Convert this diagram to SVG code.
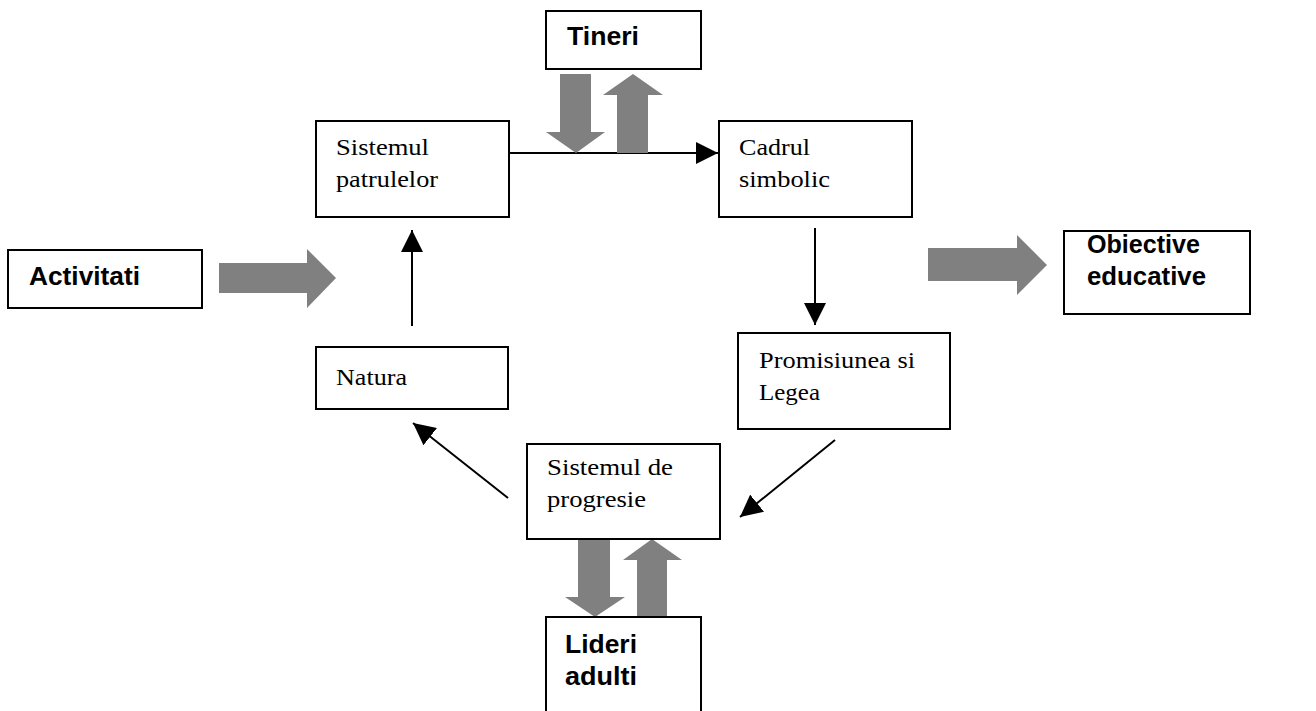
<svg xmlns="http://www.w3.org/2000/svg" width="1316" height="711" viewBox="0 0 1316 711">
<style>
.box{fill:#fff;stroke:#000;stroke-width:2}
.s{font-family:"Liberation Serif","Times New Roman",serif;font-size:24px;fill:#000}
.b{font-family:"Liberation Sans",Arial,sans-serif;font-size:25px;font-weight:bold;fill:#000}
.fat{fill:#808080;stroke:none}
.ln{stroke:#000;stroke-width:2;fill:none;marker-end:url(#ah)}
</style>
<defs>
<marker id="ah" markerUnits="userSpaceOnUse" markerWidth="22" markerHeight="22" viewBox="0 0 20 20" refX="20" refY="10" orient="auto">
<path d="M0,0 L20,10 L0,20 Z" fill="#000"/>
</marker>
</defs>
<rect width="1316" height="711" fill="#fff"/>
<g id="connectors">
<line class="ln" x1="509" y1="153" x2="718" y2="153"/>
<line class="ln" x1="412" y1="326" x2="412" y2="230"/>
<line class="ln" x1="815" y1="228" x2="815" y2="325"/>
<line class="ln" x1="835" y1="440" x2="740" y2="517"/>
<line class="ln" x1="508" y1="498" x2="413" y2="423"/>
<polygon class="fat" points="560,74 591,74 591,132 605,132 576,153 546,132 560,132"/>
<polygon class="fat" points="617,153 648,153 648,95 663,95 633,74 603,95 617,95"/>
<polygon class="fat" points="219,263 307,263 307,249 336,278 307,308 307,293 219,293"/>
<polygon class="fat" points="928,248 1017,248 1017,235 1047,265 1017,295 1017,281 928,281"/>
<polygon class="fat" points="578,539 610,539 610,597 625,597 595,617 565,597 578,597"/>
<polygon class="fat" points="637,617 667,617 667,560 682,560 652,539 623,560 637,560"/>
</g>
<g id="tineri">
<rect class="box" x="546" y="11" width="155" height="58"/>
<text class="b" x="567" y="45" textLength="72" lengthAdjust="spacingAndGlyphs">Tineri</text>
</g>
<g id="sistemul-patrulelor">
<rect class="box" x="316" y="121" width="193" height="96"/>
<text class="s" x="336" y="155" textLength="93" lengthAdjust="spacingAndGlyphs">Sistemul</text>
<text class="s" x="336" y="187" textLength="102" lengthAdjust="spacingAndGlyphs">patrulelor</text>
</g>
<g id="cadrul-simbolic">
<rect class="box" x="719" y="121" width="193" height="96"/>
<text class="s" x="739" y="155" textLength="71" lengthAdjust="spacingAndGlyphs">Cadrul</text>
<text class="s" x="739" y="187" textLength="91" lengthAdjust="spacingAndGlyphs">simbolic</text>
</g>
<g id="activitati">
<rect class="box" x="8" y="250" width="194" height="58"/>
<text class="b" x="29" y="285" textLength="111" lengthAdjust="spacingAndGlyphs">Activitati</text>
</g>
<g id="obiective-educative">
<rect class="box" x="1064" y="231" width="186" height="83"/>
<text class="b" x="1087" y="253" textLength="113" lengthAdjust="spacingAndGlyphs">Obiective</text>
<text class="b" x="1087" y="285" textLength="119" lengthAdjust="spacingAndGlyphs">educative</text>
</g>
<g id="natura">
<rect class="box" x="316" y="347" width="192" height="62"/>
<text class="s" x="336" y="385" textLength="71" lengthAdjust="spacingAndGlyphs">Natura</text>
</g>
<g id="promisiunea-si-legea">
<rect class="box" x="738" y="333" width="212" height="96"/>
<text class="s" x="759" y="368" textLength="156" lengthAdjust="spacingAndGlyphs">Promisiunea si</text>
<text class="s" x="759" y="400" textLength="61" lengthAdjust="spacingAndGlyphs">Legea</text>
</g>
<g id="sistemul-de-progresie">
<rect class="box" x="527" y="444" width="193" height="95"/>
<text class="s" x="547" y="475" textLength="126" lengthAdjust="spacingAndGlyphs">Sistemul de</text>
<text class="s" x="547" y="507" textLength="99" lengthAdjust="spacingAndGlyphs">progresie</text>
</g>
<g id="lideri-adulti">
<rect class="box" x="546" y="617" width="155" height="110"/>
<text class="b" x="565" y="653" textLength="72" lengthAdjust="spacingAndGlyphs">Lideri</text>
<text class="b" x="565" y="685" textLength="72" lengthAdjust="spacingAndGlyphs">adulti</text>
</g>
</svg>
